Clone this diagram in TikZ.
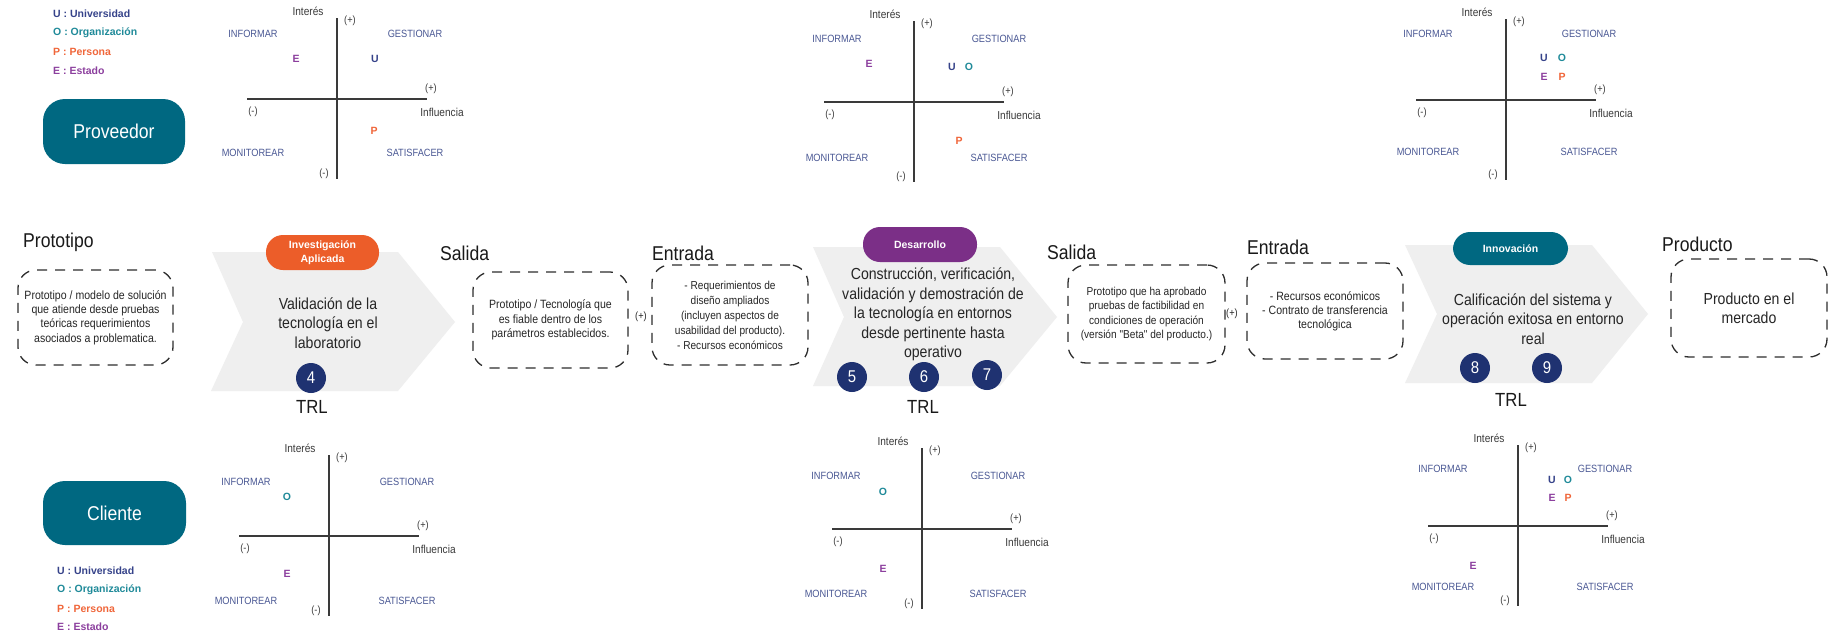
\documentclass[tikz,border=0pt]{standalone}
\usepackage{fontspec}
\setmainfont{Liberation Sans}
\newfontfamily\cnd{Liberation Sans}[FakeStretch=0.88]
\usetikzlibrary{calc}
\definecolor{qblue}{HTML}{4A5894}
\definecolor{axgray}{HTML}{3A3A3A}
\definecolor{boxgray}{HTML}{2E2E2E}
\definecolor{chevgray}{HTML}{EFEFEF}
\definecolor{ucol}{HTML}{36438A}
\definecolor{ocol}{HTML}{1F8A99}
\definecolor{pcol}{HTML}{F0663A}
\definecolor{ecol}{HTML}{8C3F9E}
\definecolor{tealbox}{HTML}{006881}
\definecolor{orpill}{HTML}{EC5D29}
\definecolor{purpill}{HTML}{7B2F87}
\definecolor{navy}{HTML}{1F3271}
\tikzset{
  qlab/.style={font=\cnd\fontsize{10.5}{12}\selectfont, text=qblue, inner sep=0pt},
  axlab/.style={font=\cnd\fontsize{11.5}{13}\selectfont, text=axgray, inner sep=0pt},
  pm/.style={font=\cnd\fontsize{10.5}{12}\selectfont, text=axgray, inner sep=0pt},
  mk/.style={font=\bfseries\fontsize{10.5}{12}\selectfont, inner sep=0pt},
  axis/.style={draw=axgray, line width=1.4pt},
  heading/.style={font=\cnd\fontsize{20}{24}\selectfont, anchor=west, inner sep=0pt, text=black!90},
  dbox/.style={draw=boxgray, dashed, dash pattern=on 10pt off 8pt, line width=1.3pt, rounded corners=18pt, align=center, inner sep=2pt, text=black!85, font=\cnd\fontsize{12}{14.3}\selectfont},
  chev/.style={fill=chevgray},
  chevtext/.style={align=center, inner sep=0pt, text=black!85, font=\cnd\fontsize{16}{19.5}\selectfont},
  trl/.style={circle, fill=navy, text=white, minimum size=30pt, inner sep=0pt, font=\cnd\fontsize{17}{17}\selectfont},
  trllab/.style={font=\cnd\fontsize{19}{20}\selectfont, inner sep=0pt, text=black!90},
  pill/.style={rounded corners=17pt, text=white, align=center, inner sep=0pt, minimum height=35pt, font=\bfseries\fontsize{10.5}{13.5}\selectfont},
  role/.style={rounded corners=22pt, fill=tealbox, text=white, inner sep=0pt, font=\cnd\fontsize{20}{24}\selectfont},
  leg/.style={font=\bfseries\fontsize{10.5}{12}\selectfont, anchor=west, inner sep=0pt},
  plus/.style={font=\cnd\fontsize{10.5}{12}\selectfont, inner sep=0pt, text=black!85}
}
\newcommand{\stakequad}[7]{%
  \coordinate (#1c) at (#2,#3);
  \coordinate (#1l) at ($(#1c)+(-90,0)$);
  \coordinate (#1r) at ($(#1c)+(90,0)$);
  \coordinate (#1t) at ($(#1c)+(0,-81)$);
  \coordinate (#1b) at ($(#1c)+(0,80)$);
  \draw[axis] (#1l) -- (#1r);
  \draw[axis] (#1t) -- (#1b);
  \node[axlab] (#1int) at ($(#1c)+(-29,-88)$) {Interés};
  \node[pm] (#1pt) at ($(#1c)+(13,-78)$) {(+)};
  \node[qlab] (#1inf) at ($(#1c)+(#4,#6)$) {INFORMAR};
  \node[qlab] (#1ges) at ($(#1c)+(#5,#6)$) {GESTIONAR};
  \node[qlab] (#1mon) at ($(#1c)+(#4,#7)$) {MONITOREAR};
  \node[qlab] (#1sat) at ($(#1c)+(#5,#7)$) {SATISFACER};
  \node[pm] (#1pr) at ($(#1c)+(94,-10)$) {(+)};
  \node[pm] (#1ml) at ($(#1c)+(-84,13)$) {(-)};
  \node[axlab] (#1infl) at ($(#1c)+(105,13)$) {Influencia};
  \node[pm] (#1mb) at ($(#1c)+(-13,75)$) {(-)};
}
\begin{document}
\begin{tikzpicture}[x=1pt,y=-1pt]
\useasboundingbox[fill=white] (0,0) rectangle (1838,637);

% chevrons
\fill[chev] (212,252) -- (398,252) -- (455,322) -- (398,391) -- (211,391) -- (243,322) -- cycle;
\fill[chev] (813,247) -- (1000,247) -- (1057,317) -- (1000,386) -- (813,386) -- (844,317) -- cycle;
\fill[chev] (1405,245) -- (1592,245) -- (1648,314) -- (1592,383) -- (1405,383) -- (1437,314) -- cycle;

% legends
\node[leg, text=ucol] (lu1) at (53,14) {U : Universidad};
\node[leg, text=ocol] (lo1) at (53,33) {O : Organización};
\node[leg, text=pcol] (lp1) at (53,52) {P : Persona};
\node[leg, text=ecol] (le1) at (53,71) {E : Estado};
\node[leg, text=ucol] (lu2) at (57,571) {U : Universidad};
\node[leg, text=ocol] (lo2) at (57,590) {O : Organización};
\node[leg, text=pcol] (lp2) at (57,609) {P : Persona};
\node[leg, text=ecol] (le2) at (57,627) {E : Estado};

% role boxes
\node[role, minimum width=142pt, minimum height=65pt] (prov) at (114,131.5) {Proveedor};
\node[role, minimum width=143pt, minimum height=64pt] (cli) at (114.5,513) {Cliente};

% quadrants
\stakequad{qa}{337}{99}{-84}{78}{-65}{54}
\stakequad{qb}{914}{102}{-77}{85}{-63}{56}
\stakequad{qc}{1506}{100}{-78}{83}{-66}{52}
\stakequad{qd}{329}{536}{-83}{78}{-54}{65}
\stakequad{qe}{922}{529}{-86}{76}{-53}{65}
\stakequad{qf}{1518}{526}{-75}{87}{-57}{61}

% stakeholder markers
\node[mk, text=ecol] (qaE) at (296,59) {E};
\node[mk, text=ucol] (qaU) at (375,59) {U};
\node[mk, text=pcol] (qaP) at (374,131) {P};
\node[mk, text=ecol] (qbE) at (869,64) {E};
\node[mk, text=ucol] (qbU) at (952,67) {U};
\node[mk, text=ocol] (qbO) at (969,67) {O};
\node[mk, text=pcol] (qbP) at (959,141) {P};
\node[mk, text=ucol] (qcU) at (1544,58) {U};
\node[mk, text=ocol] (qcO) at (1562,58) {O};
\node[mk, text=ecol] (qcE) at (1544,77) {E};
\node[mk, text=pcol] (qcP) at (1562,77) {P};
\node[mk, text=ocol] (qdO) at (287,497) {O};
\node[mk, text=ecol] (qdE) at (287,574) {E};
\node[mk, text=ocol] (qeO) at (883,492) {O};
\node[mk, text=ecol] (qeE) at (883,569) {E};
\node[mk, text=ucol] (qfU) at (1552,480) {U};
\node[mk, text=ocol] (qfO) at (1568,480) {O};
\node[mk, text=ecol] (qfE) at (1552,498) {E};
\node[mk, text=pcol] (qfP) at (1568,498) {P};
\node[mk, text=ecol] (qfE2) at (1473,566) {E};

% headings
\node[heading] (hproto) at (23,242) {Prototipo};
\node[heading] (hsal1) at (440,253) {Salida};
\node[heading] (hent1) at (652,253) {Entrada};
\node[heading] (hsal2) at (1047,252) {Salida};
\node[heading] (hent2) at (1247,247) {Entrada};
\node[heading] (hprod) at (1662,244) {Producto};

% dashed boxes
\node[dbox, minimum width=155pt, minimum height=95pt] (b0) at (95.5,317.5)
  {Prototipo / modelo de solución\\que atiende desde pruebas\\teóricas requerimientos\\asociados a problematica.};
\node[dbox, minimum width=155pt, minimum height=96pt] (b1) at (550.5,320)
  {Prototipo / Tecnología que\\es fiable dentro de los\\parámetros establecidos.};
\node[dbox, minimum width=156pt, minimum height=100pt, font=\cnd\fontsize{11.5}{15}\selectfont] (b2) at (730,315)
  {- Requerimientos de\\diseño ampliados\\(incluyen aspectos de\\usabilidad del producto).\\- Recursos económicos};
\node[dbox, minimum width=157pt, minimum height=98pt, font=\cnd\fontsize{11.5}{14.5}\selectfont] (b3) at (1146.5,314)
  {Prototipo que ha aprobado\\pruebas de factibilidad en\\condiciones de operación\\(versión "Beta" del producto.)};
\node[dbox, minimum width=156pt, minimum height=96pt, font=\cnd\fontsize{12}{14}\selectfont] (b4) at (1325,311)
  {- Recursos económicos\\- Contrato de transferencia\\tecnológica};
\node[dbox, minimum width=156pt, minimum height=98pt, font=\cnd\fontsize{16}{19}\selectfont] (b5) at (1749,308)
  {Producto en el\\mercado};

\node[plus] (plus1) at (641,317) {(+)};
\node[plus] (plus2) at (1232,314) {(+)};

% pills
\node[pill, fill=orpill, minimum width=113pt] (p1) at (322.5,252.5) {Investigación\\Aplicada};
\node[pill, fill=purpill, minimum width=114pt] (p2) at (920,244.5) {Desarrollo};
\node[pill, fill=tealbox, minimum width=115pt, minimum height=33pt] (p3) at (1510.5,248.5) {Innovación};

% chevron texts
\node[chevtext] (c1) at (328,323) {Validación de la\\tecnología en el\\laboratorio};
\node[chevtext] (c2) at (933,314.5) {Construcción, verificación,\\validación y demostración de\\la tecnología en entornos\\desde pertinente hasta\\operativo};
\node[chevtext] (c3) at (1533,319) {Calificación del sistema y\\operación exitosa en entorno\\real};

% TRL circles
\node[trl] (t4) at (311,378) {4};
\node[trl] (t5) at (852,377) {5};
\node[trl] (t6) at (924,377) {6};
\node[trl] (t7) at (987,375) {7};
\node[trl] (t8) at (1475,368) {8};
\node[trl] (t9) at (1547,368) {9};
\node[trllab] (trl1) at (312,407) {TRL};
\node[trllab] (trl2) at (923,407) {TRL};
\node[trllab] (trl3) at (1511,400) {TRL};
\end{tikzpicture}
\end{document}
